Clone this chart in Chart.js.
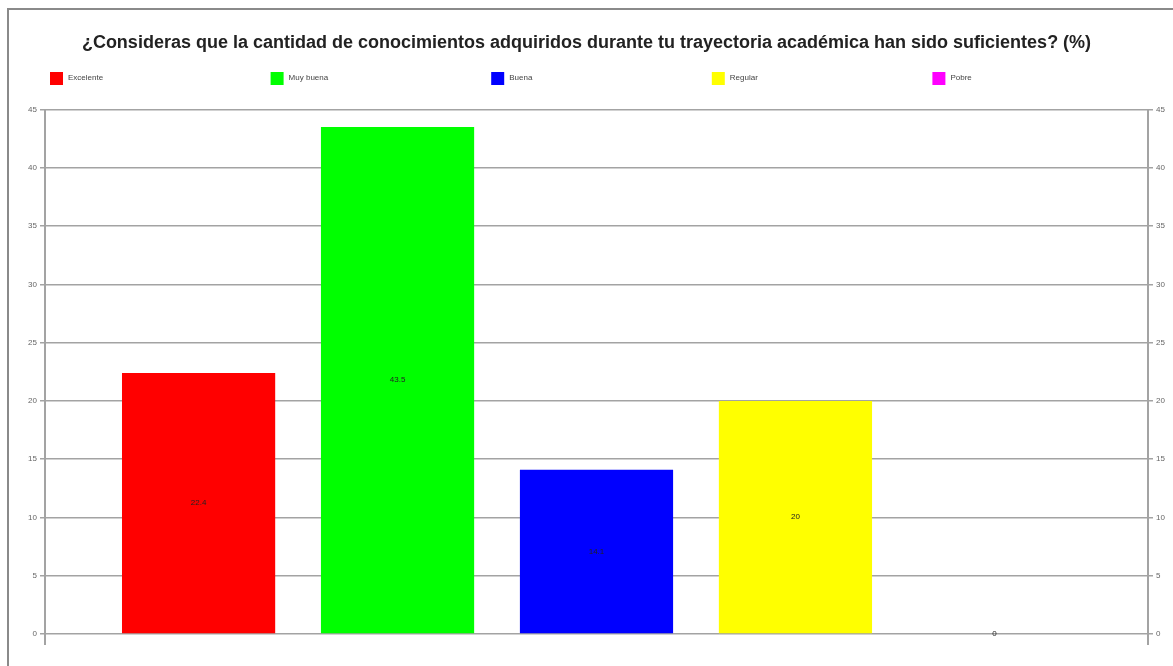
<!DOCTYPE html>
<html>
<head>
<meta charset="utf-8">
<script src="https://cdn.jsdelivr.net/npm/chart.js@4/dist/chart.umd.min.js"></script>
<style>
  html, body { margin: 0; padding: 0; background: #fff; }
  #wrap { position: relative; width: 1173px; height: 666px; overflow: hidden; }
  #frame { position: absolute; left: 7px; top: 8px; width: 1200px; height: 700px;
           border-left: 2px solid #8a8a8a; border-top: 2px solid #8a8a8a; }
  canvas { position: absolute; left: 0; top: 0; }
</style>
</head>
<body>
<div id="wrap">
  <div id="frame"></div>
  <canvas id="chart" width="1173" height="666"></canvas>
</div>
<script>
const title = '¿Consideras que la cantidad de conocimientos adquiridos durante tu trayectoria académica han sido suficientes? (%)';
const categories = ['Excelente', 'Muy buena', 'Buena', 'Regular', 'Pobre'];
const values = [22.4, 43.5, 14.1, 20, 0];
const colors = ['#ff0000', '#00ff00', '#0000ff', '#ffff00', '#ff00ff'];
const yTicks = [0, 5, 10, 15, 20, 25, 30, 35, 40, 45];

const gridColor = '#a3a3a3';

// one dataset per answer so every bar gets its own legend entry
const datasets = categories.map((name, i) => ({
  label: name,
  data: [{ x: i, y: values[i] }],
  backgroundColor: colors[i],
  borderWidth: 0,
  grouped: false,
}));

// legend in five even columns above the plot
const columnLegend = {
  id: 'columnLegend',
  afterDraw(chart) {
    const { ctx, chartArea } = chart;
    const colW = (chartArea.right - chartArea.left) / categories.length;
    ctx.save();
    ctx.font = '8px "Liberation Sans", Arial, sans-serif';
    ctx.textBaseline = 'middle';
    chart.data.datasets.forEach((ds, i) => {
      const x = chartArea.left + 5 + colW * i;
      const y = 78;
      ctx.fillStyle = ds.backgroundColor;
      ctx.fillRect(x, y - 6, 13, 13);
      ctx.fillStyle = '#444';
      ctx.fillText(ds.label, x + 18, y);
    });
    ctx.restore();
  },
};

// value in the middle of each bar
const barValues = {
  id: 'barValues',
  afterDatasetsDraw(chart) {
    const { ctx } = chart;
    ctx.save();
    ctx.font = '8px "Liberation Sans", Arial, sans-serif';
    ctx.fillStyle = '#222';
    ctx.textAlign = 'center';
    ctx.textBaseline = 'middle';
    chart.data.datasets.forEach((ds, i) => {
      const bar = chart.getDatasetMeta(i).data[0];
      const mid = (bar.y + bar.base) / 2;
      ctx.fillText(String(ds.data[0].y), bar.x, mid);
    });
    ctx.restore();
  },
};

// the two vertical axis lines run a bit below zero
const axisStubs = {
  id: 'axisStubs',
  afterDraw(chart) {
    const { ctx, chartArea } = chart;
    ctx.save();
    ctx.strokeStyle = gridColor;
    ctx.lineWidth = 2;
    ctx.beginPath();
    ctx.moveTo(chartArea.left, chartArea.bottom);
    ctx.lineTo(chartArea.left, chartArea.bottom + 11);
    ctx.moveTo(chartArea.right, chartArea.bottom);
    ctx.lineTo(chartArea.right, chartArea.bottom + 11);
    ctx.stroke();
    ctx.restore();
  },
};

const tickFont = { family: '"Liberation Sans", Arial, sans-serif', size: 8 };

new Chart(document.getElementById('chart'), {
  type: 'bar',
  data: { datasets },
  options: {
    responsive: false,
    animation: false,
    datasets: {
      bar: { barPercentage: 0.77, categoryPercentage: 1 },
    },
    layout: { padding: { top: 0, bottom: 32, left: 0, right: 0 } },
    scales: {
      x: {
        type: 'linear',
        offset: false,
        min: -0.772,
        max: 4.772,
        display: false,
        // one tick per answer so the bar width comes from the bar spacing
        afterBuildTicks: (s) => { s.ticks = categories.map((c, i) => ({ value: i })); },
      },
      y: {
        position: 'left',
        min: 0,
        max: 45,
        afterBuildTicks: (s) => { s.ticks = yTicks.map((v) => ({ value: v })); },
        afterFit: (s) => { s.width = 45; },
        ticks: { font: tickFont, color: '#666', padding: 3 },
        grid: { color: gridColor, lineWidth: 1.5, tickLength: 5 },
        border: { color: gridColor, width: 2 },
      },
      y2: {
        position: 'right',
        min: 0,
        max: 45,
        afterBuildTicks: (s) => { s.ticks = yTicks.map((v) => ({ value: v })); },
        afterFit: (s) => { s.width = 25; },
        ticks: { font: tickFont, color: '#666', padding: 3 },
        grid: { drawOnChartArea: false, color: gridColor, lineWidth: 1.5, tickLength: 5 },
        border: { color: gridColor, width: 2 },
      },
    },
    plugins: {
      legend: { display: false },
      tooltip: { enabled: false },
      title: {
        display: true,
        text: title,
        color: '#222',
        font: { family: '"Liberation Sans", Arial, sans-serif', size: 18, weight: 'bold' },
        padding: { top: 32, bottom: 56 },
      },
    },
  },
  plugins: [columnLegend, barValues, axisStubs],
});
</script>
</body>
</html>
